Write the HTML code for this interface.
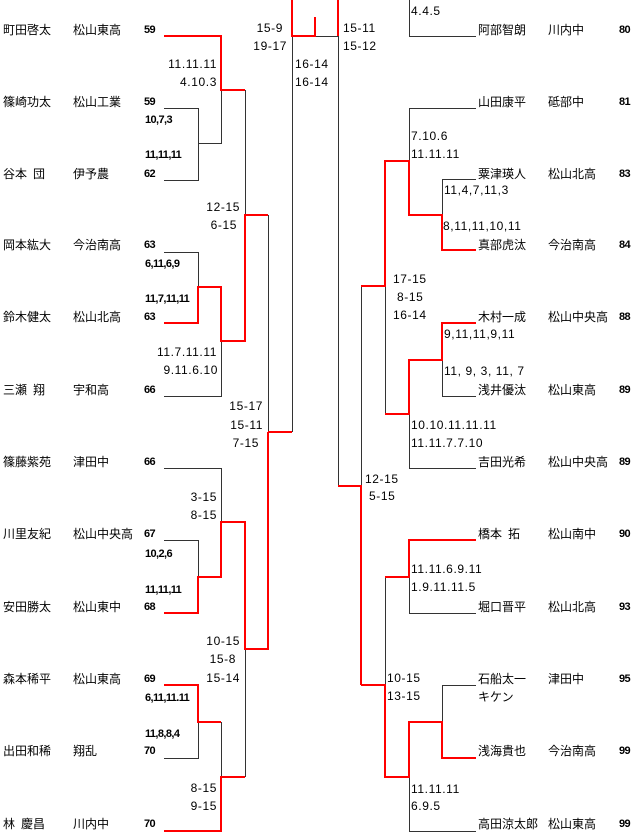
<!DOCTYPE html>
<html><head><meta charset="utf-8"><style>
html,body{margin:0;padding:0;background:#fff;}
svg{display:block;}
text{font-family:"Liberation Sans","Noto Sans CJK JP",sans-serif;fill:#000;}
.n{font-size:12px;}
.s{font-size:12px;letter-spacing:0.6px;}
.m{font-size:11px;font-weight:bold;letter-spacing:-0.6px;fill:#222;}
</style></head><body>
<svg width="640" height="832" viewBox="0 0 640 832" xmlns="http://www.w3.org/2000/svg">
<g fill="none" stroke="#333" stroke-width="1">
<path d="M164 108.5H198.5V180.5H164M198.5 143.5H221.5V90"/>
<path d="M245.5 90V215"/>
<path d="M164 252.5H198.5V287"/>
<path d="M164 396.5H221.5V341"/>
<path d="M268.5 215V432"/>
<path d="M292.5 36V432"/>
<path d="M315 36.5H338"/>
<path d="M164 468.5H221.5V522"/>
<path d="M164 540.5H198.5V577"/>
<path d="M245.5 649V777"/>
<path d="M221.5 722V777"/>
<path d="M164 758.5H198.5V722"/>
<path d="M409.5 0V36.5H476"/>
<path d="M338.5 36V486"/>
<path d="M476 108.5H409.5V161"/>
<path d="M476 179.5H442.5V215"/>
<path d="M361.5 286V486"/>
<path d="M385.5 286V414"/>
<path d="M476 396.5H442.5V360"/>
<path d="M409.5 414V468.5H476"/>
<path d="M385.5 577V685"/>
<path d="M476 613.5H409.5V577"/>
<path d="M476 685.5H442.5V722"/>
<path d="M409.5 777V831.5H476"/>
</g>
<g fill="none" stroke="#f00" stroke-width="2">
<path d="M164 36H221V90H245"/>
<path d="M164 323H198V287H221V341H245V215H268"/>
<path d="M268 432H292"/>
<path d="M292 0V36H315V17"/>
<path d="M338 0V36"/>
<path d="M164 613H198V577H221V522H245V649H268V432"/>
<path d="M164 685H198V722H221"/>
<path d="M164 831H221V777H245"/>
<path d="M476 250H442V215H409V161H385V286H361"/>
<path d="M338 486H361V685"/>
<path d="M476 323H442V360H409V414H385"/>
<path d="M476 540H409V577H385"/>
<path d="M361 685H385V777H409V722H442V758H476"/>
</g>
<g class="n">
<text x="3" y="34">町田啓太</text><text x="73" y="34">松山東高</text>
<text x="3" y="106">篠崎功太</text><text x="73" y="106">松山工業</text>
<text x="3" y="178">谷本&#8194;団</text><text x="73" y="178">伊予農</text>
<text x="3" y="249">岡本紘大</text><text x="73" y="249">今治南高</text>
<text x="3" y="321">鈴木健太</text><text x="73" y="321">松山北高</text>
<text x="3" y="394">三瀬&#8194;翔</text><text x="73" y="394">宇和高</text>
<text x="3" y="466">篠藤紫苑</text><text x="73" y="466">津田中</text>
<text x="3" y="538">川里友紀</text><text x="73" y="538">松山中央高</text>
<text x="3" y="611">安田勝太</text><text x="73" y="611">松山東中</text>
<text x="3" y="683">森本稀平</text><text x="73" y="683">松山東高</text>
<text x="3" y="755">出田和稀</text><text x="73" y="755">翔乱</text>
<text x="3" y="828">林&#8194;慶昌</text><text x="73" y="828">川内中</text>
<text x="478" y="34">阿部智朗</text><text x="548" y="34">川内中</text>
<text x="478" y="106">山田康平</text><text x="548" y="106">砥部中</text>
<text x="478" y="178">粟津瑛人</text><text x="548" y="178">松山北高</text>
<text x="478" y="249">真部虎汰</text><text x="548" y="249">今治南高</text>
<text x="478" y="321">木村一成</text><text x="548" y="321">松山中央高</text>
<text x="478" y="394">浅井優汰</text><text x="548" y="394">松山東高</text>
<text x="478" y="466">吉田光希</text><text x="548" y="466">松山中央高</text>
<text x="478" y="538">橋本&#8194;拓</text><text x="548" y="538">松山南中</text>
<text x="478" y="611">堀口晋平</text><text x="548" y="611">松山北高</text>
<text x="478" y="683">石船太一</text><text x="548" y="683">津田中</text>
<text x="478" y="701">キケン</text>
<text x="478" y="755">浅海貴也</text><text x="548" y="755">今治南高</text>
<text x="478" y="828">高田涼太郎</text><text x="548" y="828">松山東高</text>
</g>
<g class="m">
<text x="144" y="33">59</text><text x="144" y="105">59</text><text x="144" y="177">62</text>
<text x="144" y="248">63</text><text x="144" y="320">63</text><text x="144" y="393">66</text>
<text x="144" y="465">66</text><text x="144" y="537">67</text><text x="144" y="610">68</text>
<text x="144" y="682">69</text><text x="144" y="754">70</text><text x="144" y="827">70</text>
<text x="619" y="33">80</text><text x="619" y="105">81</text><text x="619" y="177">83</text>
<text x="619" y="248">84</text><text x="619" y="320">88</text><text x="619" y="393">89</text>
<text x="619" y="465">89</text><text x="619" y="537">90</text><text x="619" y="610">93</text>
<text x="619" y="682">95</text><text x="619" y="754">99</text><text x="619" y="827">99</text>
<text x="145" y="123">10,7,3</text><text x="145" y="158">11,11,11</text>
<text x="145" y="267">6,11,6,9</text><text x="145" y="302">11,7,11,11</text>
<text x="145" y="557">10,2,6</text><text x="145" y="593">11,11,11</text>
<text x="145" y="701">6,11,11.11</text><text x="145" y="737">11,8,8,4</text>
</g>
<g class="s" text-anchor="end">
<text x="217" y="68">11.11.11</text><text x="217" y="86">4.10.3</text>
<text x="240" y="211">12-15</text><text x="237" y="229">6-15</text>
<text x="217" y="356">11.7.11.11</text><text x="218" y="374">9.11.6.10</text>
<text x="263" y="410">15-17</text><text x="263" y="429">15-11</text><text x="259" y="447">7-15</text>
<text x="217" y="501">3-15</text><text x="217" y="519">8-15</text>
<text x="240" y="645">10-15</text><text x="236" y="663">15-8</text><text x="240" y="682">15-14</text>
<text x="217" y="792">8-15</text><text x="217" y="810">9-15</text>
<text x="283" y="32">15-9</text><text x="287" y="50">19-17</text>
</g>
<g class="s">
<text x="295" y="68">16-14</text><text x="295" y="86">16-14</text>
<text x="343" y="32">15-11</text><text x="343" y="50">15-12</text>
<text x="411" y="15">4.4.5</text>
<text x="411" y="140">7.10.6</text><text x="411" y="158">11.11.11</text>
<text x="444" y="194">11,4,7,11,3</text><text x="443" y="230">8,11,11,10,11</text>
<text x="393" y="283">17-15</text><text x="397" y="301">8-15</text><text x="393" y="319">16-14</text>
<text x="444" y="338">9,11,11,9,11</text><text x="444" y="375">11, 9, 3, 11, 7</text>
<text x="411" y="429">10.10.11.11.11</text><text x="411" y="447">11.11.7.7.10</text>
<text x="365" y="483">12-15</text><text x="369" y="500">5-15</text>
<text x="411" y="573">11.11.6.9.11</text><text x="411" y="591">1.9.11.11.5</text>
<text x="387" y="682">10-15</text><text x="387" y="700">13-15</text>
<text x="411" y="793">11.11.11</text><text x="411" y="810">6.9.5</text>
</g>
</svg>
</body></html>
